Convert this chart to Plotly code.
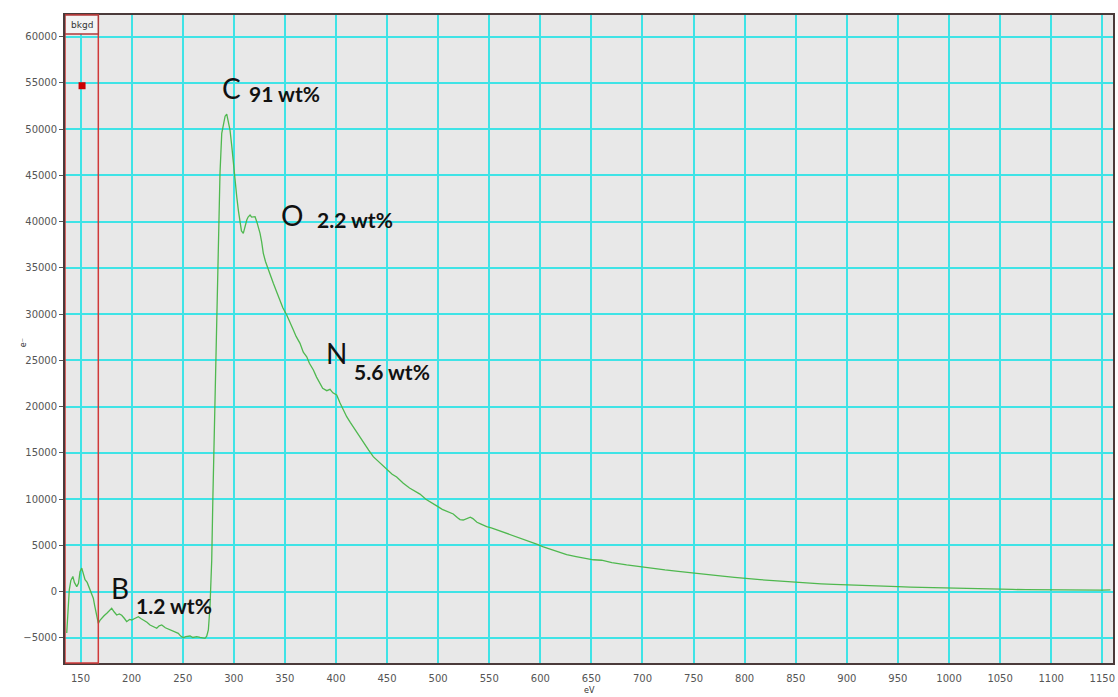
import plotly.graph_objects as go

# ---- data ----
energy_ev = [
    136.5, 138, 139, 140.5, 141.5, 142.5, 144, 146.3, 148, 149.5, 151.2, 152.5, 154.4, 156.5,
    159.3, 161, 162.5, 164, 165.9, 167.4, 169, 170.7, 173, 176, 178.9, 180.5, 183, 185.4,
    188, 190.3, 193, 195.2, 198, 200.1, 203, 206.6, 209, 211.5, 215, 218, 221, 224.6, 227,
    229.5, 233, 237.6, 241, 245.7, 248, 250.6, 253, 257.2, 260, 263.7, 267, 271.8, 273.5,
    275.1, 276.7, 277.4, 278.4, 279.5, 281, 282.5, 284, 284.9, 285.5, 286.5, 288.2, 290,
    291.5, 293.1, 294.5, 296.3, 298, 299.5, 301, 302.9, 304.5, 306.1, 307.5, 309.3, 311,
    312.7, 314, 315.9, 317.5, 319.1, 320.8, 322.5, 324, 325.7, 327.3, 328.9, 331, 333.8,
    336, 338.7, 342, 345.2, 348, 351.8, 355, 358.3, 361, 364.8, 368, 371.4, 374, 377.9,
    381, 384.4, 387, 391, 394.2, 397, 400.7, 404, 407, 410.5, 414, 418, 423.5, 428, 432,
    436.5, 443, 449.6, 455, 459.4, 465.9, 472, 477, 482.2, 488, 493, 498.6, 504, 509,
    514.8, 519, 521.4, 524.6, 528, 531.5, 534, 538, 542, 547.5, 552, 557, 563, 570.3, 576,
    583, 590, 596.4, 603, 610, 616, 625.8, 635, 643, 651.9, 660, 670, 684.5, 697.6, 710,
    722, 735, 749.7, 763, 776, 790, 802, 815, 828, 840, 849.3, 862, 875, 887, 899.8, 912,
    925, 937, 950, 962, 975, 987, 999.3, 1012, 1025, 1037, 1050, 1062, 1075, 1087, 1098.8,
    1112, 1125, 1137, 1150, 1158,
]
counts_e = [
    -4460, -1500, 200, 1200, 1500, 1650, 1000, 550, 900, 2150, 2550, 2100, 1300, 1000,
    200, -300, -700, -1600, -2900, -3420, -3100, -2850, -2600, -2300, -1980, -1800, -2200, -2520,
    -2400, -2550, -2900, -3240, -3000, -3060, -2900, -2700, -2900, -3060, -3300, -3600, -3800, -3960, -3700,
    -3600, -3900, -4140, -4300, -4500, -4800, -4970, -4850, -4790, -4950, -4860, -4950, -5040, -4800,
    -4140, -1620, -170, 3400, 10000, 18000, 26000, 33000, 36940, 39820, 45230, 49550, 50800,
    51400, 51640, 51000, 49910, 48200, 46310, 44500, 42700, 41200, 39820, 39000, 38740, 39500,
    40180, 40500, 40720, 40500, 40540, 40540, 40000, 39460, 38740, 37800, 36580, 35700, 34780,
    34100, 33340, 32400, 31530, 30700, 29910, 29200, 28290, 27600, 26850, 25900, 25400, 24700, 23970,
    23200, 22530, 22000, 21730, 21880, 21500, 21260, 20400, 19700, 18920, 18300, 17600, 16760, 16000, 15300,
    14600, 13900, 13200, 12700, 12400, 11720, 11200, 10900, 10550, 10000, 9700, 9280, 8900, 8700,
    8400, 8000, 7800, 7750, 7900, 8050, 7900, 7500, 7300, 7030, 6900, 6700, 6500, 6250, 6000,
    5700, 5450, 5150, 4850, 4600, 4400, 4000, 3800, 3600, 3450, 3400, 3150, 2900, 2700, 2500,
    2350, 2200, 2000, 1850, 1700, 1550, 1400, 1300, 1200, 1100, 1010, 950, 850, 780, 720, 650,
    620, 580, 540, 500, 460, 430, 400, 330, 310, 290, 260, 240, 220, 200, 180,
    190, 170, 180, 170, 190,
]

marker_ev = [151.5]
marker_counts = [54700]

bkgd_window = [134.8, 167.4]

x_range = [134.8, 1160.5]
y_range = [-7710, 62345]

element_labels = ["B", "C", "O", "N"]
element_x = [188.7, 297.3, 356.7, 400.3]
element_y = [400, 54450, 40720, 25770]
wt_labels = ["1.2 wt%", "91 wt%", "2.2 wt%", "5.6 wt%"]
wt_x = [202.4, 312.7, 379.5, 415.4]
wt_y = [-1440, 53860, 40290, 23780]

grid_c = "#3fe3e6"
tick_font = dict(family="DejaVu Sans", size=10, color="#555555")

fig = go.Figure()
fig.add_trace(go.Scatter(x=energy_ev, y=counts_e, mode="lines",
                         line=dict(color="#4fb84f", width=1.3), showlegend=False,
                         hoverinfo="skip"))
fig.add_trace(go.Scatter(x=marker_ev, y=marker_counts, mode="markers",
                         marker=dict(symbol="square", size=7, color="#cc0000"),
                         showlegend=False, hoverinfo="skip"))

# background window box
fig.add_shape(type="rect", xref="x", yref="paper", x0=bkgd_window[0], x1=bkgd_window[1],
              y0=0, y1=1, line=dict(color="#d03a3a", width=1.5), fillcolor="rgba(0,0,0,0)")
fig.add_shape(type="rect", xref="x", yref="paper", x0=bkgd_window[0], x1=bkgd_window[1],
              y0=1 - 19 / 648, y1=1, line=dict(color="#b03a3a", width=1.5), fillcolor="#f4f4f4")
fig.add_annotation(x=(bkgd_window[0] + bkgd_window[1]) / 2, y=1 - 9.5 / 648, xref="x", yref="paper",
                   text="bkgd", showarrow=False, font=dict(family="DejaVu Sans", size=9, color="#333333"),
                   xanchor="center", yanchor="middle")

for t, x, y in zip(element_labels, element_x, element_y):
    fig.add_annotation(x=x, y=y, text=t, showarrow=False, xanchor="center", yanchor="middle",
                       font=dict(family="Lato", size=28, color="#111111"))
for t, x, y in zip(wt_labels, wt_x, wt_y):
    fig.add_annotation(x=x, y=y, text="<b>" + t + "</b>", showarrow=False, xanchor="left",
                       yanchor="middle", font=dict(family="Lato", size=21, color="#111111"))

# axis titles
fig.add_annotation(x=0.5, y=-0.042, xref="paper", yref="paper", text="eV", showarrow=False,
                   font=dict(family="DejaVu Sans", size=8, color="#333333"), yanchor="middle")
fig.add_annotation(x=-0.045, y=0.494, xref="paper", yref="paper", text="e⁻", showarrow=False,
                   textangle=-90, font=dict(family="DejaVu Sans", size=8, color="#333333"))

fig.update_xaxes(range=x_range, tick0=150, dtick=50, showgrid=True, gridcolor=grid_c, gridwidth=1.5,
                 zeroline=False, showline=True, mirror=True, linecolor="#4a3a3a", linewidth=1.5,
                 ticks="outside", ticklen=5, tickcolor="rgba(0,0,0,0)", tickfont=tick_font,
                 tickformat="d", automargin=False)
fig.update_yaxes(range=y_range, tick0=0, dtick=5000, showgrid=True, gridcolor=grid_c, gridwidth=1.5,
                 zeroline=True, zerolinecolor=grid_c, zerolinewidth=1.5,
                 showline=True, mirror=True, linecolor="#4a3a3a", linewidth=1.8,
                 ticks="outside", ticklen=4, tickcolor="#555555", tickfont=tick_font,
                 tickformat="d", automargin=False)

fig.update_layout(width=1118, height=697, margin=dict(l=65, r=5, t=15, b=34),
                  plot_bgcolor="#e8e8e8", paper_bgcolor="#ffffff", hovermode=False)

fig.write_html("out.html", config={"displayModeBar": False},
               post_script="document.body.style.margin='0';document.body.style.overflow='hidden';")
